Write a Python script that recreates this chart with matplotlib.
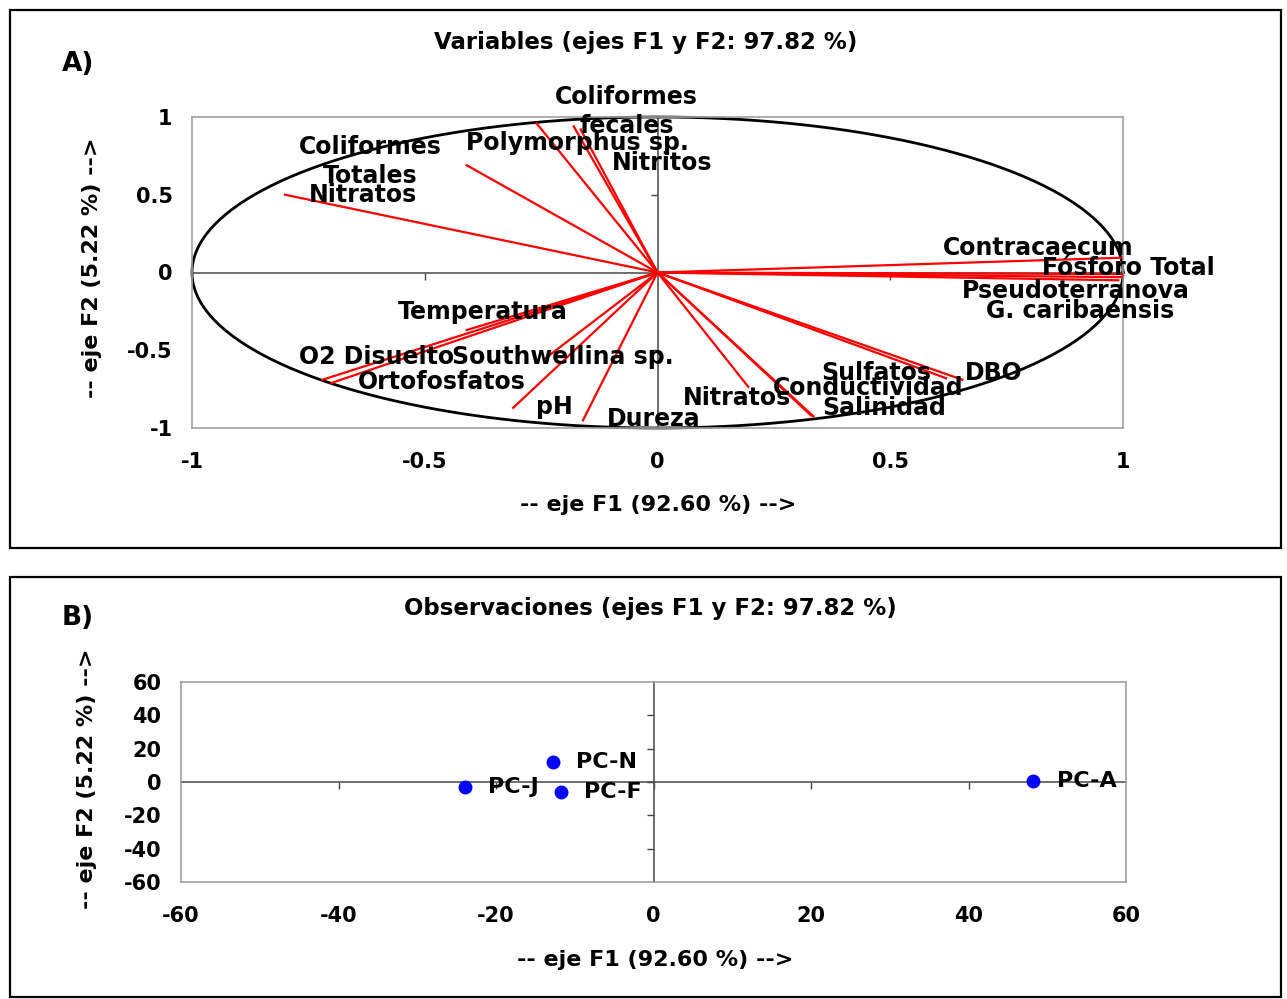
#!/usr/bin/env python3

import numpy as np
import matplotlib
matplotlib.use("Agg")
import matplotlib.pyplot as plt
from matplotlib.patches import Rectangle

plt.rcParams["font.family"] = "DejaVu Sans"
plt.rcParams["font.weight"] = "bold"
plt.rcParams["axes.unicode_minus"] = False

# Loadings of the variables on F1 / F2
var_names = ["Coliformes\nfecales", "Nitritos", "Polymorphus sp.", "Coliformes\nTotales",
             "Nitratos", "Contracaecum", "Fósforo Total", "Pseudoterranova",
             "G. caribaensis", "Temperatura", "O2 Disuelto", "Ortofosfatos",
             "Southwellina sp.", "pH", "Dureza", "Nitratos", "Sulfatos", "DBO",
             "Conductividad", "Salinidad"]
var_f1 = [-0.18, -0.165, -0.26, -0.41, -0.80, 0.997, 0.999, 0.99, 0.998, -0.41,
          -0.72, -0.70, -0.24, -0.31, -0.16, 0.195, 0.62, 0.655, 0.33, 0.335]
var_f2 = [0.94, 0.92, 0.96, 0.69, 0.50, 0.095, -0.01, -0.05, -0.03, -0.37,
          -0.69, -0.71, -0.55, -0.87, -0.95, -0.735, -0.68, -0.69, -0.92, -0.925]

# Scores of the observations
obs_names = ["PC-N", "PC-J", "PC-F", "PC-A"]
obs_f1 = [-12.8, -24.0, -11.8, 48.2]
obs_f2 = [12.0, -3.0, -5.8, 0.6]

x_ticks_a = [-1, -0.5, 0, 0.5, 1]
x_ticklabels_a = ["-1", "-0.5", "0", "0.5", "1"]
ticks_b = [-60, -40, -20, 0, 20, 40, 60]

# where the variable names sit (centre of text, data units)
label_pos = [(-0.066, 1.035), (0.01, 0.703), (-0.172, 0.832), (-0.618, 0.713),
             (-0.632, 0.497), (0.818, 0.155), (1.011, 0.026), (0.898, -0.116),
             (0.908, -0.245), (-0.375, -0.252), (-0.604, -0.542), (-0.463, -0.703),
             (-0.204, -0.542), (-0.222, -0.865), (-0.009, -0.942), (0.171, -0.806),
             (0.469, -0.645), (0.722, -0.645), (0.453, -0.742), (0.488, -0.871)]

W, H = 1287, 999
fig = plt.figure(figsize=(W / 100, H / 100), dpi=100)


def px_rect(x0, y0, x1, y1):
    return [x0 / W, 1 - y1 / H, (x1 - x0) / W, (y1 - y0) / H]


def fig_text(x, y, s, **kw):
    fig.text(x / W, 1 - y / H, s, ha="center", va="center", **kw)


def zero_axes(ax, xt, yt):
    # Excel style: axes cross at zero, tick marks sit on the zero lines
    sx = ax.secondary_xaxis(0.5)
    sx.set_alignment("bottom")
    sx.set_xticks(xt)
    sx.tick_params(labelbottom=False, labeltop=False, length=5, width=1, color="#444444")
    for s in sx.spines.values():
        s.set_color("#555555")
        s.set_linewidth(1.2)
    sy = ax.secondary_yaxis(0.5)
    sy.set_alignment("left")
    sy.set_yticks(yt)
    sy.tick_params(labelleft=False, labelright=False, length=5, width=1, color="#444444")
    for s in sy.spines.values():
        s.set_color("#555555")
        s.set_linewidth(1.2)


def frame(ax):
    for s in ax.spines.values():
        s.set_color("#a0a0a0")
        s.set_linewidth(1.2)


# ---------- A) variables ----------
ax = fig.add_axes(px_rect(192, 117, 1123, 428))
ax.set_xlim(-1, 1)
ax.set_ylim(-1, 1)
frame(ax)
ax.set_xticks(x_ticks_a)
ax.set_xticklabels(x_ticklabels_a)
ax.set_yticks(x_ticks_a)
ax.set_yticklabels(x_ticklabels_a)
ax.tick_params(axis="x", length=0, pad=17, labelsize=15)
ax.tick_params(axis="y", length=0, pad=14, labelsize=15)
zero_axes(ax, [-0.5, 0.5], [-0.5, 0.5])

theta = np.linspace(0, 2 * np.pi, 361)
ax.plot(np.cos(theta), np.sin(theta), color="black", lw=2, clip_on=False, zorder=2)

for f1, f2 in zip(var_f1, var_f2):
    ax.plot([0, f1], [0, f2], color="red", lw=1.6, zorder=3)

for name, (lx, ly) in zip(var_names, label_pos):
    ax.text(lx, ly, name, ha="center", va="center", fontsize=17, fontweight="bold",
            linespacing=1.25, zorder=4, clip_on=False)

fig_text(646, 42, "Variables (ejes F1 y F2: 97.82 %)", fontsize=16.5, fontweight="bold")
fig_text(78, 64, "A)", fontsize=19, fontweight="bold")
fig_text(658, 505, "-- eje F1 (92.60 %) -->", fontsize=16, fontweight="bold")
fig_text(92, 268, "-- eje F2 (5.22 %) -->", fontsize=16, fontweight="bold", rotation=90)

# ---------- B) observations ----------
bx = fig.add_axes(px_rect(181, 682, 1126, 882))
bx.set_xlim(-60, 60)
bx.set_ylim(-60, 60)
frame(bx)
bx.set_xticks(ticks_b)
bx.set_yticks(ticks_b)
bx.tick_params(axis="x", length=0, pad=17, labelsize=15)
bx.tick_params(axis="y", length=0, pad=14, labelsize=15)
zero_axes(bx, ticks_b[1:-1], ticks_b[1:-1])

bx.plot(obs_f1, obs_f2, "o", color="#0000ff", markersize=9, zorder=3)
for name, f1, f2 in zip(obs_names, obs_f1, obs_f2):
    bx.annotate(name, (f1, f2), xytext=(17, 0), textcoords="offset points",
                ha="left", va="center", fontsize=16, fontweight="bold", zorder=4)

fig_text(650, 608, "Observaciones (ejes F1 y F2: 97.82 %)", fontsize=16.5, fontweight="bold")
fig_text(78, 618, "B)", fontsize=19, fontweight="bold")
fig_text(655, 960, "-- eje F1 (92.60 %) -->", fontsize=16, fontweight="bold")
fig_text(87, 779, "-- eje F2 (5.22 %) -->", fontsize=16, fontweight="bold", rotation=90)

# panel boxes
for y0, y1 in [(10, 548), (577, 997)]:
    fig.add_artist(Rectangle((10 / W, 1 - y1 / H), 1271 / W, (y1 - y0) / H,
                             transform=fig.transFigure, fill=False,
                             edgecolor="black", linewidth=1.6))

fig.savefig("out.png", dpi=100)
